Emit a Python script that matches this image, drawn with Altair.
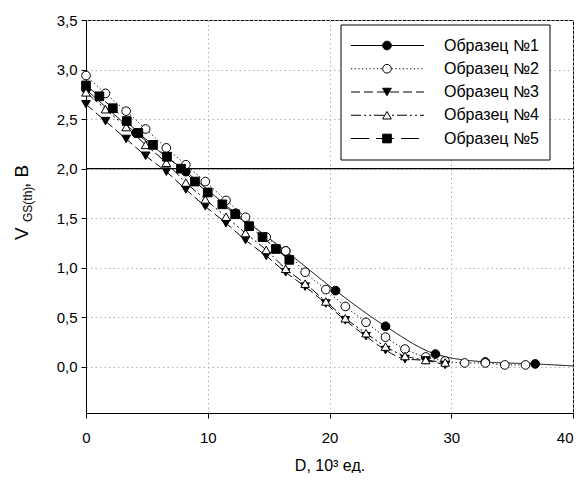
import altair as alt
import pandas as pd

names = ["Образец №1", "Образец №2", "Образец №3", "Образец №4", "Образец №5"]

d1_x = [0, 4.1, 8.2, 12.3, 16.4, 20.5, 24.6, 28.7, 32.8, 36.9]
d1_y = [2.80, 2.36, 1.97, 1.55, 1.17, 0.77, 0.41, 0.13, 0.05, 0.03]

d2_x = [0, 1.6, 3.3, 4.9, 6.6, 8.2, 9.8, 11.5, 13.1, 14.8, 16.4, 18.0, 19.7,
        21.3, 23.0, 24.6, 26.2, 27.9, 29.5, 31.1, 32.8, 34.4, 36.1]
d2_y = [2.94, 2.76, 2.58, 2.40, 2.21, 2.04, 1.87, 1.68, 1.51, 1.31, 1.17, 0.955,
        0.78, 0.61, 0.45, 0.30, 0.18, 0.10, 0.06, 0.04, 0.04, 0.02, 0.02]

d3_x = [0, 1.6, 3.3, 4.9, 6.6, 8.2, 9.8, 11.5, 13.1, 14.8, 16.4, 18.0, 19.7,
        21.3, 23.0, 24.6, 26.2, 27.9, 29.5]
d3_y = [2.65, 2.48, 2.30, 2.13, 1.97, 1.79, 1.62, 1.45, 1.28, 1.12, 0.955, 0.81,
        0.64, 0.47, 0.31, 0.17, 0.08, 0.065, 0.02]

d4_x = d3_x
d4_y = [2.77, 2.60, 2.42, 2.24, 2.06, 1.86, 1.69, 1.515, 1.35, 1.18, 0.99, 0.84,
        0.66, 0.49, 0.34, 0.205, 0.11, 0.07, 0.045]

d5_x = [0, 1.1, 2.2, 3.35, 4.3, 5.5, 6.65, 7.8, 8.95, 10.0, 11.2, 12.25, 13.4,
        14.5, 15.6, 16.7]
d5_y = [2.84, 2.73, 2.61, 2.48, 2.36, 2.24, 2.12, 2.00, 1.87, 1.76, 1.64, 1.54,
        1.42, 1.31, 1.19, 1.08]

# end of the curve of sample 1 (reaches the right border)
tail1_x = [40]
tail1_y = [0.01]

threshold = [2.0]

y_ticks = [0, 0.5, 1.0, 1.5, 2.0, 2.5, 3.0, 3.5]
x_ticks = [0, 10, 20, 30, 40]

series = [(d1_x, d1_y), (d2_x, d2_y), (d3_x, d3_y), (d4_x, d4_y), (d5_x, d5_y)]
rows = []
for n, (xs_, ys_) in zip(names, series):
    for xv, yv in zip(xs_, ys_):
        rows.append({"name": n, "x": xv, "y": yv})
pts = pd.DataFrame(rows)
line_rows = list(rows) + [{"name": names[0], "x": a, "y": b} for a, b in zip(tail1_x, tail1_y)]
lines_df = pd.DataFrame(line_rows)

FONT = "Liberation Sans"

dash_scale = alt.Scale(domain=names, range=[[1, 0], [1.2, 2.5], [9, 4], [10, 3, 2, 3, 2, 3], [18, 7]])
shape_scale = alt.Scale(domain=names, range=["circle", "circle", "triangle-down", "triangle-up", "square"])
fill_scale = alt.Scale(domain=names, range=["black", "white", "black", "white", "black"])

xs = alt.Scale(domain=[0, 40], nice=False, zero=False)
ys = alt.Scale(domain=[-0.465, 3.5], nice=False, zero=False)

x_axis = alt.Axis(values=x_ticks, format="d", title="D, 10³ ед.", grid=True,
                  gridDash=[1.5, 3], gridColor="#b0b0b0", tickSize=5, tickColor="black",
                  domainColor="black", labelFont=FONT, labelFontSize=15, labelColor="black",
                  labelPadding=12, titleFont=FONT, titleFontSize=16, titleFontWeight="normal",
                  titleColor="black", titlePadding=12, labelFlush=False,
                  labelAlign={"expr": "datum.value == 40 ? 'right' : 'center'"})
y_axis = alt.Axis(values=y_ticks, labelExpr="replace(format(datum.value, '.1f'), '.', ',')",
                  title=None, grid=True, gridDash=[1.5, 3], gridColor="#b0b0b0", tickSize=5,
                  tickColor="black", domainColor="black", labelFont=FONT, labelFontSize=15,
                  labelColor="black", labelPadding=4)

lines = alt.Chart(lines_df).mark_line(color="black", strokeWidth=1, interpolate="monotone").encode(
    x=alt.X("x:Q", scale=xs, axis=x_axis),
    y=alt.Y("y:Q", scale=ys, axis=y_axis),
    strokeDash=alt.StrokeDash("name:N", scale=dash_scale, legend=None),
    detail="name:N",
)

points = alt.Chart(pts).mark_point(filled=True, stroke="black", strokeWidth=1, size=75, opacity=1).encode(
    x=alt.X("x:Q", scale=xs, axis=x_axis),
    y=alt.Y("y:Q", scale=ys, axis=None),
    shape=alt.Shape("name:N", scale=shape_scale, legend=None),
    fill=alt.Fill("name:N", scale=fill_scale, legend=None),
)

hline = alt.Chart(pd.DataFrame({"v": threshold})).mark_rule(color="black", strokeWidth=1.3).encode(
    y=alt.Y("v:Q", scale=ys, axis=None)
)

# ---- legend (drawn manually) ----
leg_df = pd.DataFrame({"name": names})
leg_y = alt.Y("name:N", scale=alt.Scale(type="point", domain=names, range=[25.5, 118.5], padding=0), axis=None)

leg_box = alt.Chart(pd.DataFrame({"a": [0]})).mark_rect(fill="white", stroke="black", strokeWidth=1).encode(
    x=alt.value(255), x2=alt.value(464), y=alt.value(5), y2=alt.value(140)
)
leg_lines = alt.Chart(leg_df).mark_rule(color="black", strokeWidth=1).encode(
    x=alt.value(265), x2=alt.value(338), y=leg_y,
    strokeDash=alt.StrokeDash("name:N", scale=dash_scale, legend=None),
)
leg_pts = alt.Chart(leg_df).mark_point(filled=True, stroke="black", strokeWidth=1, size=75, opacity=1).encode(
    x=alt.value(301), y=leg_y,
    shape=alt.Shape("name:N", scale=shape_scale, legend=None),
    fill=alt.Fill("name:N", scale=fill_scale, legend=None),
)
leg_text = alt.Chart(leg_df).mark_text(align="left", baseline="middle", font=FONT, fontSize=16, color="black").encode(
    x=alt.value(358), y=leg_y, text="name:N"
)

# ---- y title with subscript ----
one = pd.DataFrame({"a": [0]})
yt_v = alt.Chart(one).mark_text(text="V", angle=270, align="left", baseline="alphabetic",
                                font=FONT, fontSize=19, color="black").encode(x=alt.value(-58), y=alt.value(220))
yt_sub = alt.Chart(one).mark_text(text="GS(th)", angle=270, align="left", baseline="alphabetic",
                                  font=FONT, fontSize=12, color="black").encode(x=alt.value(-54), y=alt.value(202))
yt_end = alt.Chart(one).mark_text(text=", В", angle=270, align="left", baseline="alphabetic",
                                  font=FONT, fontSize=19, color="black").encode(x=alt.value(-58), y=alt.value(168))

chart = alt.layer(
    lines, points, hline, leg_box, leg_lines, leg_pts, leg_text, yt_v, yt_sub, yt_end
).resolve_scale(y="independent").properties(
    width=487, height=393, autosize="none",
    padding={"left": 78, "top": 12, "right": 1, "bottom": 60},
    background="white",
).configure_view(stroke="black", strokeWidth=1)

chart.save("out.html", embed_options={"renderer": "svg", "actions": False})
